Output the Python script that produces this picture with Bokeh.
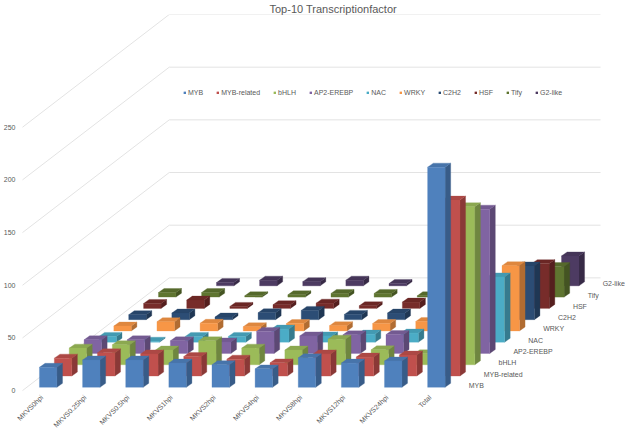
from math import pi
from bokeh.plotting import figure
from bokeh.models import FixedTicker, Legend, LegendItem, Range1d, Title
from bokeh.core.properties import value
from bokeh.embed import file_html
from bokeh.resources import INLINE

categories = ["MKVS0hpi", "MKVS0.25hpi", "MKVS0.5hpi", "MKVS1hpi", "MKVS2hpi",
              "MKVS4hpi", "MKVS8hpi", "MKVS12hpi", "MKVS24hpi", "Total"]
series_names = ["MYB", "MYB-related", "bHLH", "AP2-EREBP", "NAC",
                "WRKY", "C2H2", "HSF", "Tify", "G2-like"]
y_ticks = [0, 50, 100, 150, 200, 250]

MYB = [19, 26, 26, 23, 21.5, 17.5, 28, 23, 25, 209]
MYB_related = [17, 22, 21, 18.5, 16, 12.5, 21, 18, 20, 167]
bHLH = [15.8, 19, 14, 22.7, 15.8, 14, 24.3, 14.2, 10.4, 150]
AP2_EREBP = [13, 13, 12, 11, 21, 16.7, 17.7, 18, 15, 137]
NAC = [5.5, 1, 5.5, 5.5, 12.5, 6, 7.7, 8.7, 7, 62]
WRKY = [4.7, 8.8, 7.3, 4, 7, 5, 7, 9, 6, 62]
C2H2 = [4.7, 6.3, 2.5, 6.6, 8.8, 5, 6.3, 6, 6, 51]
HSF = [4.7, 7.9, 1.9, 3.5, 5, 2.5, 6, 5, 4, 42.5]
Tify = [4.4, 4.4, 1.3, 2.2, 3.5, 3.5, 1.3, 3, 3, 29]
G2_like = [None, 3.1, 5.4, 4, 5.4, 2.2, 3, 3, 3, 28.4]
all_series = [MYB, MYB_related, bHLH, AP2_EREBP, NAC, WRKY, C2H2, HSF, Tify, G2_like]

colors = ["#4F81BD", "#C0504D", "#9BBB59", "#8064A2", "#4BACC6",
          "#F79646", "#2C4D75", "#772C2A", "#5F7530", "#4D3B62"]

# scale of the oblique view: one category = 43.2 px, one value unit = 1.056 px
PX_X, PX_Y = 43.2, 1.056
FRAME_W, FRAME_TOP, FRAME_BOTTOM = 611, 377, 42
WALL_X0 = 7 / PX_X                            # front-left corner of the floor
BAR_X0, BAR_Y0 = 24 / PX_X, 3.3 / PX_Y        # first bar's front-left foot
BAR_W = 17.5 / PX_X
SIDE_X, SIDE_Y = 5.6 / PX_X, 4 / PX_Y         # depth of one bar
STEP_X, STEP_Y = 14.9 / PX_X, 11.3 / PX_Y     # one series further back
BACK_X, BACK_Y = 147 / PX_X, 113 / PX_Y       # depth of the floor
WALL_END = 586 / PX_X
TEXT = "#595959"


def shade(hex_color, f):
    r, g, b = [int(hex_color[i:i + 2], 16) for i in (1, 3, 5)]
    return "#%02x%02x%02x" % (int(r * f), int(g * f), int(b * f))


p = figure(width=625, height=432, output_backend="svg", toolbar_location=None,
           x_range=Range1d(0, FRAME_W / PX_X),
           y_range=Range1d(-FRAME_BOTTOM / PX_Y, FRAME_TOP / PX_Y),
           min_border_left=14, min_border_right=0, min_border_top=13, min_border_bottom=0,
           outline_line_color=None, background_fill_color="white", border_fill_color="white")
p.grid.visible = False
p.xaxis.visible = False

p.title = Title(text="Top-10 Transcriptionfactor", align="left", offset=254, standoff=0,
                text_font="Liberation Sans", text_font_size="11px", text_font_style="normal",
                text_color=TEXT)

# value axis
ax = p.yaxis[0]
ax.ticker = FixedTicker(ticks=y_ticks)
ax.axis_line_color = None
ax.major_tick_line_color = None
ax.minor_tick_line_color = None
ax.major_tick_out = 0
ax.major_tick_in = 0
ax.minor_tick_out = 0
ax.minor_tick_in = 0
ax.major_label_standoff = 0
ax.major_label_text_font = "Liberation Sans"
ax.major_label_text_font_size = "7px"
ax.major_label_text_color = TEXT

# oblique and back wall gridlines
p.multi_line([[WALL_X0, WALL_X0 + BACK_X, WALL_END] for _ in y_ticks],
             [[v, v + BACK_Y, v + BACK_Y] for v in y_ticks],
             line_color="#E3E3E3", line_width=1)

legend_items = [None] * len(all_series)
for s in range(len(all_series) - 1, -1, -1):
    vals = all_series[s]
    front_x, front_y, side_x, side_y, top_x, top_y = [], [], [], [], [], []
    for c, v in enumerate(vals):
        if v is None:
            continue
        x = BAR_X0 + c + s * STEP_X
        y = BAR_Y0 + s * STEP_Y
        front_x.append([x, x + BAR_W, x + BAR_W, x])
        front_y.append([y, y, y + v, y + v])
        side_x.append([x + BAR_W, x + BAR_W + SIDE_X, x + BAR_W + SIDE_X, x + BAR_W])
        side_y.append([y, y + SIDE_Y, y + v + SIDE_Y, y + v])
        top_x.append([x, x + BAR_W, x + BAR_W + SIDE_X, x + SIDE_X])
        top_y.append([y + v, y + v, y + v + SIDE_Y, y + v + SIDE_Y])
    col = colors[s]
    p.patches(side_x, side_y, fill_color=shade(col, 0.72), line_color=shade(col, 0.72), line_width=0.3)
    p.patches(top_x, top_y, fill_color=shade(col, 0.9), line_color=shade(col, 0.9), line_width=0.3)
    r = p.patches(front_x, front_y, fill_color=col, line_color=col, line_width=0.3)
    legend_items[s] = LegendItem(label=series_names[s], renderers=[r])

# category labels
cat_x = [24 / PX_X + c for c in range(len(categories))]
cat_y = [-3 / PX_Y] * len(categories)
p.text(cat_x, cat_y, text=categories, angle=pi / 4, text_font=value("Liberation Sans"),
       text_font_size="7px", text_color=TEXT, text_align="right", text_baseline="top")

# depth axis labels
lab_x = [454 / PX_X + s * STEP_X for s in range(len(series_names))]
lab_y = [5.3 / PX_Y + s * STEP_Y for s in range(len(series_names))]
p.text(lab_x, lab_y, text=series_names, text_font=value("Liberation Sans"),
       text_font_size="7px", text_color=TEXT, text_align="left", text_baseline="middle")

legend = Legend(items=legend_items, orientation="horizontal", location=(168, 336),
                glyph_width=3, glyph_height=3, label_standoff=2, spacing=13,
                padding=0, margin=0, border_line_color=None, background_fill_alpha=0,
                label_text_font="Liberation Sans", label_text_font_size="7px",
                label_text_color=TEXT, label_height=8, label_width=5)
p.add_layout(legend)

open("out.html", "w").write(file_html(p, INLINE))
